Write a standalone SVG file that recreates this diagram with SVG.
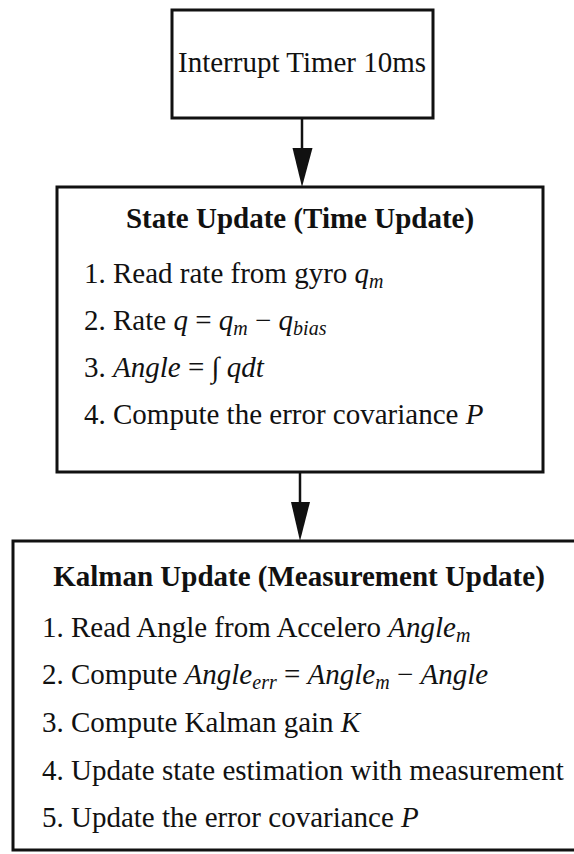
<svg xmlns="http://www.w3.org/2000/svg" width="574" height="854" viewBox="0 0 574 854">
<style>
.box{fill:none;stroke:#111;stroke-width:3}
.t{font-family:"Liberation Serif","Times New Roman",serif;font-size:29px;fill:#111}
.b{font-weight:bold}
.i{font-style:italic}
.s{font-style:italic;font-size:20px}
.line{stroke:#111;stroke-width:2.5;fill:none}
.head{fill:#111;stroke:none}
</style>
<rect width="574" height="854" fill="#fff"/>
<g id="connectors">
<line class="line" x1="302" y1="118" x2="302" y2="150"/>
<polygon class="head" points="292.5,148 312.5,148 302,187"/>
<line class="line" x1="300" y1="472" x2="300" y2="504"/>
<polygon class="head" points="291,502 310,502 300,541"/>
</g>
<g id="node-timer">
<rect class="box" x="172" y="10" width="261" height="108"/>
<text class="t" x="178" y="72">Interrupt Timer 10ms</text>
</g>
<g id="node-state">
<rect class="box" x="57" y="187" width="486" height="285"/>
<text class="t b" x="300" y="228" text-anchor="middle">State Update (Time Update)</text>
<text class="t" x="84" y="283">1. Read rate from gyro <tspan class="i">q</tspan><tspan class="s" dy="5">m</tspan></text>
<text class="t" x="84" y="330">2. Rate <tspan class="i">q</tspan> = <tspan class="i">q</tspan><tspan class="s" dy="5">m</tspan><tspan dy="-5"> − </tspan><tspan class="i">q</tspan><tspan class="s" dy="5">bias</tspan></text>
<text class="t" x="84" y="377">3. <tspan class="i">Angle</tspan> = ∫ <tspan class="i">qdt</tspan></text>
<text class="t" x="84" y="424">4. Compute the error covariance <tspan class="i">P</tspan></text>
</g>
<g id="node-kalman">
<rect class="box" x="13" y="541" width="580" height="309"/>
<text class="t b" x="299" y="586" text-anchor="middle">Kalman Update (Measurement Update)</text>
<text class="t" x="42" y="637">1. Read Angle from Accelero <tspan class="i">Angle</tspan><tspan class="s" dy="5">m</tspan></text>
<text class="t" x="42" y="684">2. Compute <tspan class="i">Angle</tspan><tspan class="s" dy="5">err</tspan><tspan dy="-5"> = </tspan><tspan class="i">Angle</tspan><tspan class="s" dy="5">m</tspan><tspan dy="-5"> − </tspan><tspan class="i">Angle</tspan></text>
<text class="t" x="42" y="732">3. Compute Kalman gain <tspan class="i">K</tspan></text>
<text class="t" x="42" y="780">4. Update state estimation with measurement</text>
<text class="t" x="42" y="827">5. Update the error covariance <tspan class="i">P</tspan></text>
</g>
</svg>
